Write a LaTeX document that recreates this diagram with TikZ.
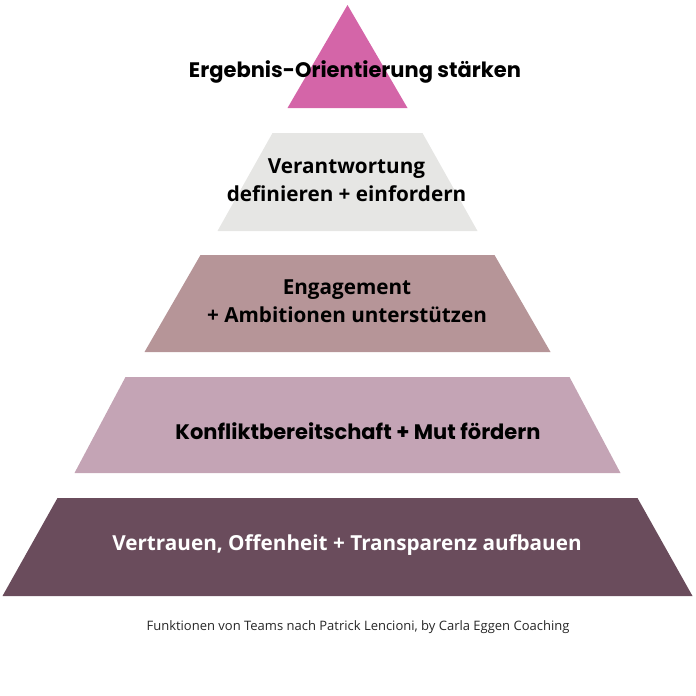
\documentclass[tikz,border=0pt]{standalone}
\usepackage{fontspec}
\setmainfont{Open Sans}
\newfontfamily\geofont{Poppins}
\usetikzlibrary{positioning}

\definecolor{topPink}{HTML}{D465A8}
\definecolor{lightGrey}{HTML}{E6E6E4}
\definecolor{dustyRose}{HTML}{B69598}
\definecolor{paleMauve}{HTML}{C4A4B5}
\definecolor{darkPlum}{HTML}{6A4C5C}

\begin{document}
\begin{tikzpicture}[x=1pt, y=-1pt,
  lbl/.style={font=\bfseries\fontsize{20.7}{28}\selectfont, align=center, text=black, inner sep=0pt},
  geolbl/.style={font=\geofont\bfseries\fontsize{21}{26}\selectfont, align=center, text=black, inner sep=0pt},
  note/.style={font=\fontsize{13}{15}\selectfont, text=black!85, inner sep=0pt}
]
  \useasboundingbox (0,0) rectangle (696,696);
  % pyramid levels, top to bottom
  \fill[topPink]    (347.5,5) -- (407.5,108) -- (287.5,108) -- cycle;
  \fill[lightGrey]  (272.5,133) -- (422.5,133) -- (477.5,231) -- (217.5,231) -- cycle;
  \fill[dustyRose]  (200.5,255) -- (494.5,255) -- (550.5,352) -- (144.5,352) -- cycle;
  \fill[paleMauve]  (125.5,377) -- (569.5,377) -- (620.5,473) -- (74.5,473) -- cycle;
  \fill[darkPlum]   (57.5,498) -- (637.5,498) -- (692.5,596) -- (2.5,596) -- cycle;

  \node[geolbl] (res)  at (355,72)   {Ergebnis-Orientierung stärken};
  \node[lbl]    (acc)  at (346.5,180) {Verantwortung\\definieren + einfordern};
  \node[lbl]    (com)  at (347,301)  {Engagement\\+ Ambitionen unterstützen};
  \node[geolbl] (conf) at (358,431)  {Konfliktbereitschaft + Mut fördern};
  \node[lbl, text=white] (trust) at (347,545) {Vertrauen, Offenheit + Transparenz aufbauen};
  \node[note]   (cap)  at (358,627)  {Funktionen von Teams nach Patrick Lencioni, by Carla Eggen Coaching};
\end{tikzpicture}
\end{document}
